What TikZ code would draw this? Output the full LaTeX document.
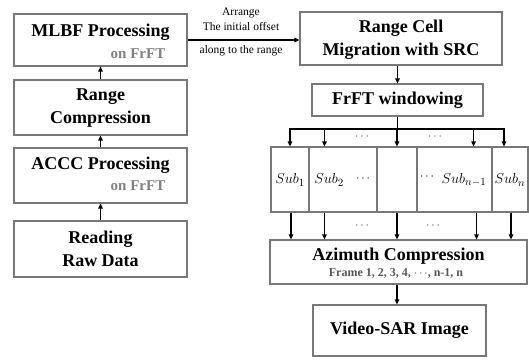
\documentclass[tikz,border=0pt]{standalone}
\usepackage{fontspec}
\setmainfont{Liberation Serif}
\usetikzlibrary{arrows.meta}
\definecolor{boxgray}{RGB}{120,120,120}
\definecolor{subgray}{RGB}{128,128,128}
\definecolor{framegray}{RGB}{85,85,85}
\definecolor{dotgray}{RGB}{70,70,70}
\begin{document}
\begin{tikzpicture}[x=1pt,y=-1pt,
  box/.style={draw=boxgray, line width=1.1pt, inner sep=0pt},
  arr/.style={-{Triangle[length=5pt,width=4.5pt]}, line width=1.4pt, black},
  plainline/.style={line width=1.4pt, black},
  main/.style={font=\fontsize{18}{21}\selectfont\bfseries, align=center, inner sep=0pt},
  onfrft/.style={font=\fontsize{15}{18}\selectfont\bfseries, text=subgray, inner sep=0pt},
  lbl/.style={font=\fontsize{11.5}{13}\selectfont, inner sep=0pt},
  sublbl/.style={font=\fontsize{15.5}{18}\selectfont, inner sep=0pt},
  dots/.style={font=\fontsize{13}{15}\selectfont, text=dotgray, inner sep=0pt}]
\useasboundingbox (0,0) rectangle (529,362);

% left column boxes
\node[box, minimum width=173pt, minimum height=52pt] (mlbf) at (100.5,40) {};
\node[box, minimum width=173pt, minimum height=55pt] (rc) at (100.5,107.5) {};
\node[box, minimum width=173pt, minimum height=55pt] (accc) at (100.5,175.5) {};
\node[box, minimum width=173pt, minimum height=56pt] (raw) at (100.5,249) {};

\node[main] (mlbft) at (100.5,32) {MLBF Processing};
\node[onfrft] (mlbfs) at (138,54) {on FrFT};
\node[main] (rct) at (100.5,108) {Range\\[2pt]Compression};
\node[main] (accct) at (100.5,165) {ACCC Processing};
\node[onfrft] (acccs) at (138,186) {on FrFT};
\node[main] (rawt) at (100.5,249) {Reading\\[2pt]Raw Data};

% right column boxes
\node[box, minimum width=202pt, minimum height=53pt] (rcm) at (401,38.5) {};
\node[main] (rcmt) at (401,40) {Range Cell\\[2pt]Migration with SRC};
\node[box, minimum width=171pt, minimum height=32pt] (frft) at (397.5,100) {};
\node[main] (frftt) at (397.5,100.5) {FrFT windowing};

% sub-aperture cells
\node[box, minimum width=38pt, minimum height=65pt] (c1) at (290,179.5) {};
\node[box, minimum width=68pt, minimum height=65pt] (c2) at (343,179.5) {};
\node[box, minimum width=40pt, minimum height=65pt] (c3) at (397,179.5) {};
\node[box, minimum width=75pt, minimum height=65pt] (c4) at (454.5,179.5) {};
\node[box, minimum width=36pt, minimum height=65pt] (c5) at (510,179.5) {};

\node[sublbl] (s1) at (290,180) {$Sub_{1}$};
\node[sublbl] (s2) at (329,180) {$Sub_{2}$};
\node[dots, text=black] (s2d) at (363,179) {$\cdots$};
\node[dots, text=black] (s4d) at (427,177) {$\cdots$};
\node[sublbl] (s4) at (464,180) {$Sub_{n-1}$};
\node[sublbl] (s5) at (510,180) {$Sub_{n}$};

\node[box, minimum width=257pt, minimum height=44pt] (az) at (398.5,262) {};
\node[main] (azt) at (398.5,256) {Azimuth Compression};
\node[font=\fontsize{12}{14}\selectfont\bfseries, text=framegray, inner sep=0pt] (azf) at (396,273) {Frame 1, 2, 3, 4, $\cdots$, n-1, n};

\node[box, minimum width=173pt, minimum height=51pt] (vsar) at (399.5,330.5) {};
\node[main] (vsart) at (399.5,330.5) {Video-SAR Image};

% left column arrows (upwards)
\draw[arr] (raw.north) -- (accc.south);
\draw[arr] (accc.north) -- (rc.south);
\draw[arr] (rc.north) -- (mlbf.south);

% horizontal arrow with labels
\draw[arr] (mlbf.east) -- (mlbf.east -| rcm.west);
\node[lbl] (l1) at (241,13) {Arrange};
\node[lbl] (l2) at (241,27) {The initial offset};
\node[lbl] (l3) at (241,51) {along to the range};

% right column
\draw[arr] (frft.north |- rcm.south) -- (frft.north);
\coordinate (dl) at (290,129);
\coordinate (dr) at (504,129);
\draw[plainline] (frft.south) -- (frft.south |- dl);
\draw[plainline, line cap=rect] (dl) -- (dr);
\draw[arr] (dl) -- (dl |- c1.north);
\draw[arr] ([xshift=16pt]c2.north west |- dl) -- ([xshift=16pt]c2.north west);
\draw[arr] (c3.north |- dl) -- (c3.north);
\draw[arr] ([xshift=-19pt]c4.north east |- dl) -- ([xshift=-19pt]c4.north east);
\draw[arr] (dr) -- (dr |- c5.north);
\node[dots] (td1) at (362,137) {$\cdots$};
\node[dots] (td2) at (435,137) {$\cdots$};

\draw[arr] ([xshift=1pt]c1.south) -- ([xshift=1pt]c1.south |- az.north);
\draw[arr] ([xshift=16pt]c2.south west) -- ([xshift=16pt]c2.south west |- az.north);
\draw[arr] (c3.south) -- (c3.south |- az.north);
\draw[arr] ([xshift=-16pt]c4.south east) -- ([xshift=-16pt]c4.south east |- az.north);
\draw[arr] ([xshift=1pt]c5.south) -- ([xshift=1pt]c5.south |- az.north);
\node[dots] (bd1) at (362,226) {$\cdots$};
\node[dots] (bd2) at (433,226) {$\cdots$};

\draw[arr] (az.south -| c3.south) -- (c3.south |- vsar.north);
\end{tikzpicture}
\end{document}
